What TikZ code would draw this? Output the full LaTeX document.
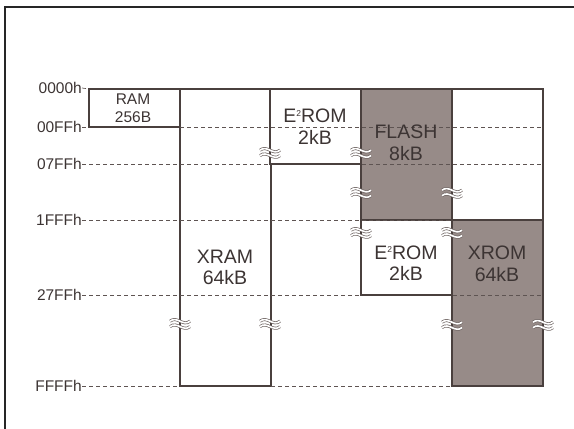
\documentclass[tikz,border=0pt]{standalone}
\usepackage{fontspec}
\setmainfont{Liberation Sans}
\definecolor{linec}{HTML}{4A403E}
\definecolor{dashc}{HTML}{5E5452}
\definecolor{flashc}{HTML}{978B88}
\definecolor{txtc}{HTML}{3C3433}
\definecolor{brkc}{HTML}{6E6462}
\newcommand{\sqtwo}{{\fontsize{8.5}{8.5}\selectfont\raisebox{6.5pt}{2}}}
\begin{document}
\begin{tikzpicture}[x=1pt,y=-1pt,
  membox/.style={draw=linec, line width=1.2pt, fill=white, anchor=north west, inner sep=0pt, outer sep=0pt},
  grey/.style={fill=flashc},
  addr/.style={anchor=east, inner sep=0pt, text=txtc, font=\fontsize{15.5}{17}\selectfont},
  big/.style={align=center, inner sep=0pt, text=txtc, font=\fontsize{19.5}{21.5}\selectfont},
  small/.style={align=center, inner sep=0pt, text=txtc, font=\fontsize{15.5}{18}\selectfont},
  dline/.style={draw=dashc, line width=0.7pt, dash pattern=on 4pt off 3pt},
  brkline/.style={draw=brkc, line width=0.7pt, double=white, double distance=1.6pt},
  brk/.pic={\draw[brkline] (-10,-1.8) .. controls (-3,-7.5) and (3,3.9) .. (10,-1.8);
            \draw[brkline] (-10,3.6) .. controls (-3,-2.1) and (3,9.3) .. (10,3.6);}
]
\useasboundingbox (0,0) rectangle (574,429);
% frame
\draw[line width=2pt, draw=black!85] (5,429) -- (5,7) -- (574,7);

% boxes
\node[membox, minimum width=91pt, minimum height=297pt] (xram) at (180,89) {};
\node[membox, minimum width=91pt, minimum height=38pt] (ram) at (89,89) {};
\node[membox, minimum width=91pt, minimum height=75pt] (eromA) at (270,89) {};
\node[membox, grey, minimum width=91pt, minimum height=131pt] (flash) at (361,89) {};
\node[membox, minimum width=91pt, minimum height=131pt] (free) at (452,89) {};
\node[membox, minimum width=91pt, minimum height=75pt] (eromB) at (361,220) {};
\node[membox, grey, minimum width=91pt, minimum height=166pt] (xrom) at (452,220) {};

% address labels
\node[addr] (a0) at (82,88) {0000h};
\node[addr] (a1) at (82,127) {00FFh};
\node[addr] (a2) at (82,164) {07FFh};
\node[addr] (a3) at (82,220) {1FFFh};
\node[addr] (a4) at (82,295) {27FFh};
\node[addr] (a5) at (82,386) {FFFFh};

% dashed address lines
\draw[dline] (a0.east) -- (ram.north west);
\draw[dline] (a1.east) -- (free.east |- a1.east);
\draw[dline] (a2.east) -- (free.east |- a2.east);
\draw[dline] (a3.east) -- (xrom.north west);
\draw[dline] (a4.east) -- (xrom.east |- a4.east);
\draw[dline] (a5.east) -- (xrom.south west);
% redraw solid edges over dashes
\draw[draw=linec, line width=1.2pt] (ram.south west) -- (ram.south east);
\draw[draw=linec, line width=1.2pt] (eromA.south west) -- (eromA.south east);
\draw[draw=linec, line width=1.2pt] (eromB.south west) -- (eromB.south east);
\draw[draw=linec, line width=1.2pt] (xram.south west) -- (xram.south east);

% texts
\node[small] (tram) at (133,108) {RAM\\256B};
\node[big] (txram) at (225,267.5) {XRAM\\64kB};
\node[big] (teromA) at (315,126.5) {E\sqtwo ROM\\2kB};
\node[big] (tflash) at (406,143) {FLASH\\8kB};
\node[big] (teromB) at (406,263) {E\sqtwo ROM\\2kB};
\node[big] (txrom) at (497,264) {XROM\\64kB};

% break marks
\foreach \p in {(270,152),(361,152),(361,192),(452,192),(361,232),(452,232),(180,323),(270,323),(452,324),(543,324)}
  \pic at \p {brk};
\end{tikzpicture}
\end{document}
